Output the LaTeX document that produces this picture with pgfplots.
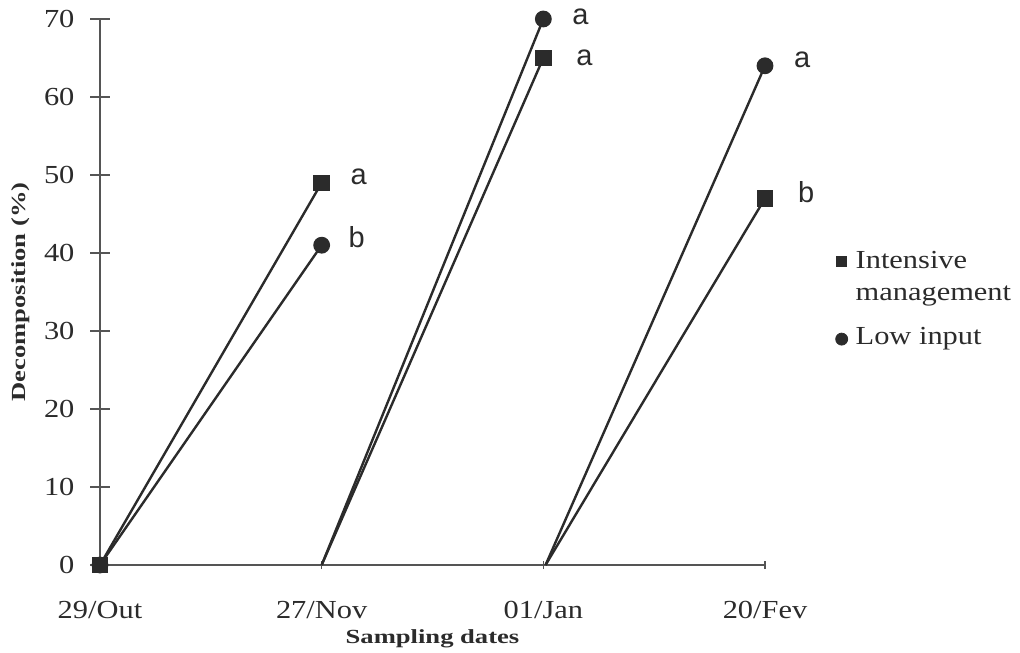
\documentclass[border=0pt]{standalone}
\usepackage{pgfplots}
\pgfplotsset{compat=1.18}
\usepackage{fontspec}
\setmainfont{Liberation Serif}[FakeStretch=1.17]
\newfontfamily\labfont{Liberation Serif}[FakeStretch=1.33]
\newfontfamily\letfont{Liberation Sans}
\definecolor{ink}{HTML}{2B2B2B}
\definecolor{axc}{HTML}{555555}
\begin{document}
\begin{tikzpicture}
\path[use as bounding box] (-50pt,-43.5pt) rectangle (460pt,282.5pt);
\begin{axis}[
  scale only axis, width=332.5pt, height=273pt,
  xmin=0, xmax=3, ymin=0, ymax=70,
  axis x line*=bottom, axis y line*=left,
  axis line style={axc, line width=0.6pt},
  xtick={0,1,2,3}, xticklabels={29/Out,27/Nov,01/Jan,20/Fev},
  ytick={0,10,...,70},
  tick align=center,
  major tick length=9.5pt,
  xtick style={axc, line width=0.6pt, /pgfplots/major tick length=4pt},
  ytick style={axc, line width=0.6pt},
  /pgf/number format/assume math mode=true,
  ticklabel style={font=\fontsize{13}{15}\selectfont, text=ink},
  yticklabel style={xshift=-4.5pt},
  xticklabel style={yshift=-10pt},
  xlabel={\labfont\bfseries Sampling dates},
  ylabel={\labfont\bfseries Decomposition (\%)},
  label style={font=\fontsize{10}{12}\selectfont, text=ink},
  xlabel style={yshift=1.5pt},
  ylabel style={yshift=0.5pt},
  clip=false,
  legend style={at={(rel axis cs:1.08,0.59)}, anchor=north west, draw=none, fill=none,
    font=\fontsize{13}{15}\selectfont, text=ink, row sep=3pt, column sep=2pt},
  legend cell align=left,
]
% 29/Out -> 27/Nov
\addplot[ink, line width=1.2pt, mark=square*, mark size=3.5pt, forget plot] coordinates {(0,0) (1,49)};
\addplot[ink, line width=1.2pt, mark=*, mark size=3.6pt, forget plot] coordinates {(0,0) (1,41)};
% 27/Nov -> 01/Jan
\addplot[ink, line width=1.2pt, mark=square*, mark size=3.5pt, mark indices={2}, forget plot] coordinates {(1,0) (2,65)};
\addplot[ink, line width=1.2pt, mark=*, mark size=3.6pt, mark indices={2}, forget plot] coordinates {(1,0) (2,70)};
% 01/Jan -> 20/Fev
\addplot[ink, line width=1.2pt, mark=square*, mark size=3.5pt, mark indices={2}, forget plot] coordinates {(2.01,0) (3,47)};
\addplot[ink, line width=1.2pt, mark=*, mark size=3.6pt, mark indices={2}, forget plot] coordinates {(2.01,0) (3,64)};
% letters
\begin{scope}[every node/.style={font=\letfont\fontsize{14.5}{16}\selectfont, text=ink, anchor=west}]
\node at (axis cs:1,49) [xshift=11pt, yshift=3pt] {a};
\node at (axis cs:1,41) [xshift=10pt, yshift=4pt] {b};
\node at (axis cs:2,70) [xshift=11pt, yshift=1pt] {a};
\node at (axis cs:2,65) [xshift=13pt, yshift=0pt] {a};
\node at (axis cs:3,64) [xshift=11pt, yshift=3pt] {a};
\node at (axis cs:3,47) [xshift=13pt, yshift=3pt] {b};
\end{scope}
\addlegendimage{only marks, mark=square*, mark size=2.6pt, ink}
\addlegendentry{Intensive}
\addlegendimage{empty legend}
\addlegendentry{management}
\addlegendimage{only marks, mark=*, mark size=3pt, ink, mark options={yshift=-3.5pt}}
\addlegendentry{\rule{0pt}{13.5pt}Low input}
\end{axis}
\end{tikzpicture}
\end{document}
